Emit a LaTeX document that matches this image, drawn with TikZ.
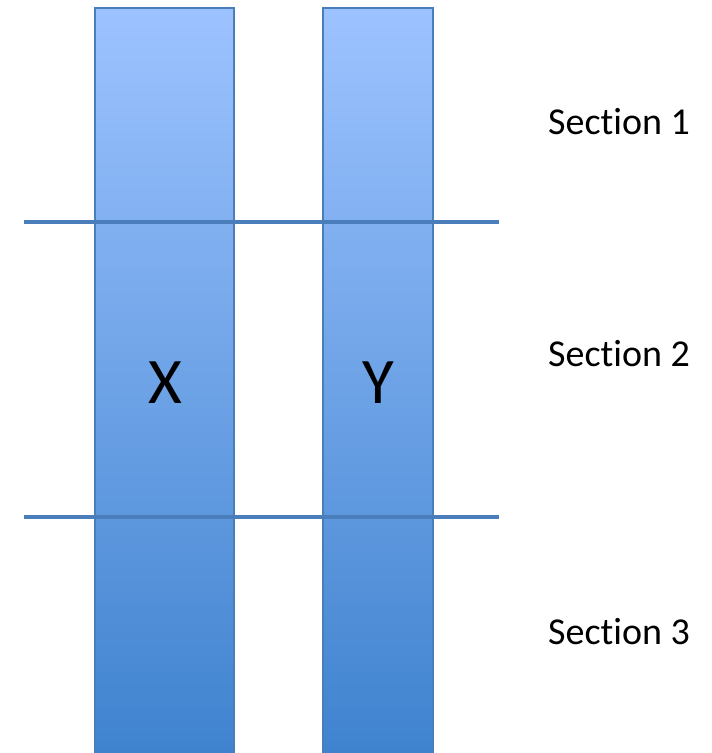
\documentclass[tikz,border=0pt]{standalone}
\usepackage{fontspec}
\setmainfont[Ligatures=NoCommon]{Carlito}
\definecolor{bartop}{RGB}{157,195,255}
\definecolor{barmid}{RGB}{128,176,242}
\definecolor{barbottom}{RGB}{62,130,206}
\definecolor{edge}{RGB}{74,126,187}
\begin{document}
\begin{tikzpicture}[x=1pt,y=-1pt,
  bar/.style={draw=edge,line width=2.4pt,top color=bartop,middle color=barmid,bottom color=barbottom,shading angle=0},
  divider/.style={draw=edge,line width=3.6pt},
  label/.style={font=\fontsize{38}{44}\selectfont,anchor=west,inner sep=0pt},
  letter/.style={font=\fontsize{65}{70}\selectfont,inner sep=0pt}]
\useasboundingbox (0,0) rectangle (712,753);
\begin{scope}
\clip (0,0) rectangle (712,753);
% the two columns, running off the bottom edge
\path[bar] (95,8) rectangle (234,760);
\path[bar] (323,8) rectangle (433,760);
\end{scope}
% dividers between the sections
\coordinate (l1a) at (24,222);
\coordinate (l1b) at (499,222);
\coordinate (l2a) at (24,517);
\coordinate (l2b) at (499,517);
\draw[divider] (l1a) -- (l1b);
\draw[divider] (l2a) -- (l2b);
% column names
\node[letter] (x) at (165,383) {X};
\node[letter] (y) at (378,383) {Y};
% section names
\node[label] (s1) at (548,122) {Section 1};
\node[label] (s2) at (548,354) {Section 2};
\node[label] (s3) at (548,632) {Section 3};
\end{tikzpicture}
\end{document}
